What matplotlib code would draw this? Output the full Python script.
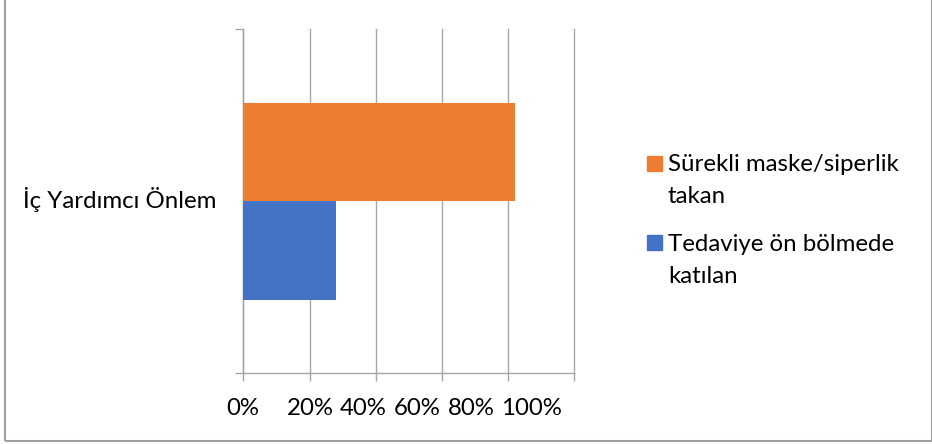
import matplotlib
matplotlib.use("Agg")
import matplotlib.pyplot as plt
from matplotlib.patches import Rectangle

plt.rcParams['font.family'] = ['Lato', 'DejaVu Sans']

categories = ["İç Yardımcı Önlem"]
series_names = ["Tedaviye ön bölmede\nkatılan", "Sürekli maske/siperlik\ntakan"]
series_values = [[0.28], [0.82]]
series_colors = ["#4472C4", "#ED7D31"]
xticks = [0, 0.2, 0.4, 0.6, 0.8, 1.0]
xtick_labels = ["0%", "20%", "40%", "60%", "80%", "100%"]

W, H = 932, 444
FS = 17.3
fig = plt.figure(figsize=(W / 100, H / 100), dpi=100)
ax = fig.add_axes([243.3 / W, 1 - 373.3 / H, (574.3 - 243.3) / W, (373.3 - 29) / H])

bar_h = 0.2865
offsets = [-bar_h / 2, bar_h / 2]
for vals, col, off in zip(series_values, series_colors, offsets):
    ax.barh([i + off for i in range(len(categories))], vals, height=bar_h,
            color=col, zorder=3)

grid_col = "#A6A6A6"
ax.set_xlim(0, 1.0)
ax.set_ylim(-0.5, 0.5)
ax.set_xticks(xticks)
ax.set_xticklabels([])
ax.grid(axis='x', color=grid_col, linewidth=1.0, zorder=0)
for gl in ax.get_xgridlines():
    gl.set_clip_on(False)
ax.set_yticks([-0.5, 0.5])
ax.set_yticklabels([])
ax.tick_params(axis='y', which='major', length=5.8, color=grid_col, width=1.0)
ax.tick_params(axis='x', length=5.8, color=grid_col, width=1.0)
for s in ['top', 'right']:
    ax.spines[s].set_visible(False)
for s in ['left', 'bottom']:
    ax.spines[s].set_color(grid_col)
    ax.spines[s].set_linewidth(1.0)

# category label
for i, cat in enumerate(categories):
    fig.text(216 / W, 1 - 208 / H, cat, fontsize=FS, ha='right', va='baseline', color="#000000")

# x tick labels, packed as in the reference rendering (centres in pixels)
label_centres_px = [243, 310, 363.2, 417.5, 471.5, 531.5]
for lab, cx in zip(xtick_labels, label_centres_px):
    fig.text(cx / W, 1 - 415 / H, lab, fontsize=FS, ha='center', va='baseline', color="#000000")

# legend (manual, handle aligned to first line as in reference)
legend_entries = [(series_names[1], series_colors[1], 171.0),
                  (series_names[0], series_colors[0], 250.7)]
for label, col, base in legend_entries:
    fig.patches.append(Rectangle((647 / W, 1 - (base - 0.5) / H), 15 / W, 15 / H,
                                 transform=fig.transFigure, color=col))
    for k, line in enumerate(label.split("\n")):
        fig.text(668 / W, 1 - (base + 32.3 * k) / H, line, fontsize=FS, va='baseline',
                 ha='left', color="#000000")

# outer chart border
fig.patches.append(Rectangle((5 / W, (H - 440.5) / H), 926.5 / W, 1.0, transform=fig.transFigure,
                             fill=False, edgecolor="#A0A0A0", linewidth=1.5))

fig.savefig("out.png", dpi=100)
